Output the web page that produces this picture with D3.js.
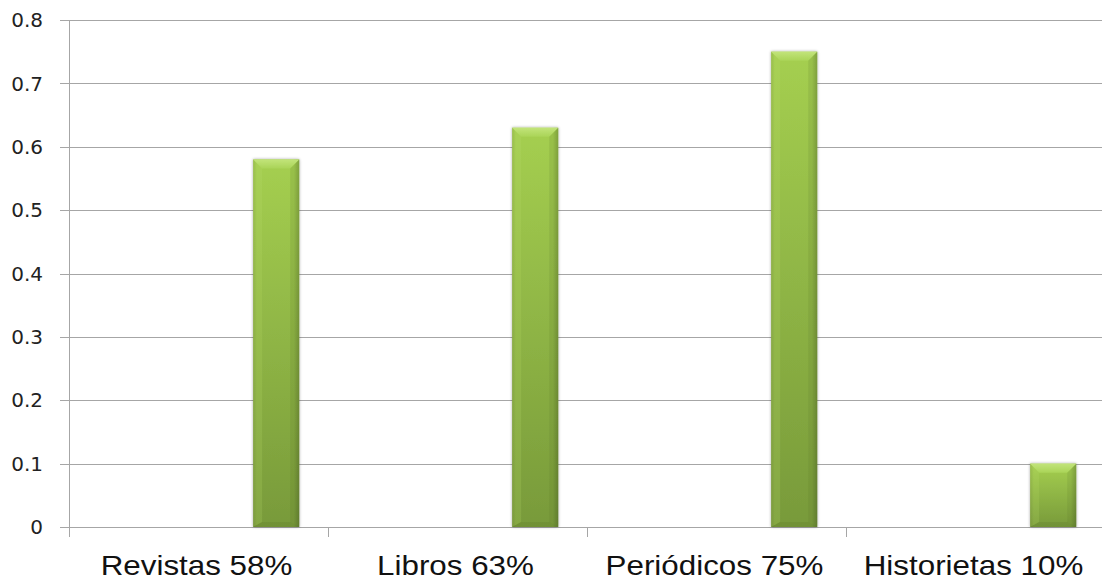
<!DOCTYPE html>
<html><head><meta charset="utf-8">
<script src="https://cdn.jsdelivr.net/npm/d3@7"></script>
<style>html,body{margin:0;padding:0;background:#fff;overflow:hidden}</style>
</head><body>
<svg id="chart" width="1102" height="583"></svg>
<script>
const categories = ["Revistas 58%", "Libros 63%", "Periódicos 75%", "Historietas 10%"];
const values = [0.58, 0.63, 0.75, 0.10];
const yTicks = [0, 0.1, 0.2, 0.3, 0.4, 0.5, 0.6, 0.7, 0.8];

const svg = d3.select("#chart");
const m = {left: 69, right: 1105, top: 20, bottom: 527};

const x = d3.scaleBand().domain(categories).range([m.left, m.right]).padding(0);
const y = d3.scaleLinear().domain([0, 0.8]).range([m.bottom, m.top]);

const defs = svg.append("defs");
const g1 = defs.append("linearGradient").attr("id", "body").attr("x1",0).attr("y1",0).attr("x2",0).attr("y2",1);
g1.append("stop").attr("offset","0%").attr("stop-color","#a5cf50");
g1.append("stop").attr("offset","100%").attr("stop-color","#789a3a");
const g2 = defs.append("linearGradient").attr("id", "side").attr("x1",0).attr("y1",0).attr("x2",1).attr("y2",0);
g2.append("stop").attr("offset","0%").attr("stop-color","#000").attr("stop-opacity",0.12);
g2.append("stop").attr("offset","8%").attr("stop-color","#000").attr("stop-opacity",0);
g2.append("stop").attr("offset","88%").attr("stop-color","#000").attr("stop-opacity",0);
g2.append("stop").attr("offset","100%").attr("stop-color","#000").attr("stop-opacity",0.18);
const g3 = defs.append("linearGradient").attr("id", "topb").attr("x1",0).attr("y1",0).attr("x2",0).attr("y2",1);
g3.append("stop").attr("offset","0%").attr("stop-color","#c2e47a");
g3.append("stop").attr("offset","100%").attr("stop-color","#aad458");
const f = defs.append("filter").attr("id","sh").attr("x","-20%").attr("y","-5%").attr("width","140%").attr("height","110%");
f.append("feGaussianBlur").attr("in","SourceAlpha").attr("stdDeviation",1.5).attr("result","b");
f.append("feComponentTransfer").attr("in","b").attr("result","o2").append("feFuncA").attr("type","linear").attr("slope",0.35);
const fm = f.append("feMerge"); fm.append("feMergeNode").attr("in","o2"); fm.append("feMergeNode").attr("in","SourceGraphic");

// gridlines
svg.append("g").selectAll("line").data(yTicks).join("line")
  .attr("x1", m.left - 9).attr("x2", m.right)
  .attr("y1", d => Math.round(y(d)) + 0.5).attr("y2", d => Math.round(y(d)) + 0.5)
  .attr("stroke", "#a6a6a6").attr("stroke-width", 1);

// y labels
svg.append("g").selectAll("text").data(yTicks).join("text")
  .attr("x", 43).attr("y", d => y(d)).attr("dy", "0.36em")
  .attr("text-anchor", "end")
  .attr("font-family", "DejaVu Sans, sans-serif").attr("font-size", 20).attr("fill", "#222")
  .text(d => d === 0 ? "0" : d3.format(".1f")(d));

// y axis line
svg.append("line").attr("x1", m.left + 0.5).attr("x2", m.left + 0.5)
  .attr("y1", m.top).attr("y2", m.bottom + 10).attr("stroke", "#a6a6a6");

// x ticks
const bounds = categories.map(c => x(c)).concat([m.right]);
svg.append("g").selectAll("line").data(bounds).join("line")
  .attr("x1", d => Math.round(d) + 0.5).attr("x2", d => Math.round(d) + 0.5)
  .attr("y1", m.bottom).attr("y2", m.bottom + 10).attr("stroke", "#a6a6a6");

// bars
const bw = x.bandwidth() * 0.178;
const bx = c => x(c) + x.bandwidth() * 0.711;
const bars = svg.append("g").selectAll("g").data(categories).join("g").attr("filter","url(#sh)");
bars.each(function(c, i) {
  const gg = d3.select(this);
  const x0 = bx(c), w = bw, y0 = y(values[i]), h = y(0) - y0;
  gg.append("rect").attr("x", x0).attr("y", y0).attr("width", w).attr("height", h).attr("fill", "url(#body)");
  gg.append("rect").attr("x", x0).attr("y", y0).attr("width", w).attr("height", h).attr("fill", "url(#side)");
  const bv = 9;
  gg.append("polygon")
    .attr("points", [[x0, y0], [x0 + w, y0], [x0 + w - bv, y0 + bv], [x0 + bv, y0 + bv]].map(p => p.join(",")).join(" "))
    .attr("fill", "url(#topb)");
  gg.append("polygon")
    .attr("points", [[x0, y0], [x0 + bv, y0 + bv], [x0 + bv, y0 + h - 5], [x0, y0 + h]].map(p => p.join(",")).join(" "))
    .attr("fill", "#b7da6a").attr("opacity", 0.2);
  gg.append("polygon")
    .attr("points", [[x0 + w, y0], [x0 + w - bv, y0 + bv], [x0 + w - bv, y0 + h - 5], [x0 + w, y0 + h]].map(p => p.join(",")).join(" "))
    .attr("fill", "#55702a").attr("opacity", 0.15);
  gg.append("polygon")
    .attr("points", [[x0, y0 + h], [x0 + bv, y0 + h - 5], [x0 + w - bv, y0 + h - 5], [x0 + w, y0 + h]].map(p => p.join(",")).join(" "))
    .attr("fill", "#55702a").attr("opacity", 0.2);
});

// x labels
svg.append("g").selectAll("text").data(categories).join("text")
  .attr("transform", c => `translate(${x(c) + x.bandwidth() / 2 - 2},575) scale(1.12,1)`)
  .attr("text-anchor", "middle")
  .attr("font-family", "Liberation Sans, Arial, sans-serif").attr("font-size", 28).attr("fill", "#111")
  .text(c => c);
</script>
</body></html>
